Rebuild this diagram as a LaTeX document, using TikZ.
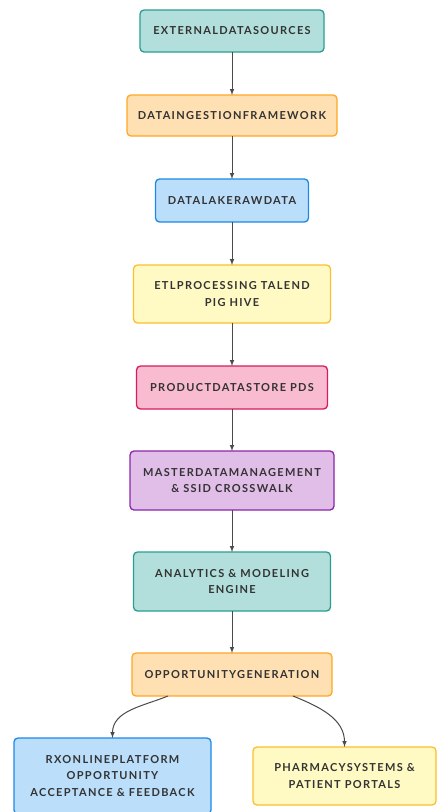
\documentclass[tikz,border=0pt]{standalone}
\usepackage{fontspec}
\newfontfamily\boxfont[LetterSpace=12]{Lato}
\usepackage{xcolor}
\usetikzlibrary{arrows,positioning}

\definecolor{tealfill}{HTML}{B2DFDB}
\definecolor{tealline}{HTML}{2A9D8F}
\definecolor{orangefill}{HTML}{FFE0B2}
\definecolor{orangeline}{HTML}{FFA726}
\definecolor{bluefill}{HTML}{BBDEFB}
\definecolor{blueline}{HTML}{1E88E5}
\definecolor{yellowfill}{HTML}{FFF9C4}
\definecolor{yellowline}{HTML}{FBC02D}
\definecolor{pinkfill}{HTML}{F8BBD0}
\definecolor{pinkline}{HTML}{D81B60}
\definecolor{purplefill}{HTML}{E1BEE7}
\definecolor{purpleline}{HTML}{8E24AA}
\definecolor{textgray}{HTML}{333333}
\definecolor{linegray}{HTML}{4A4A4A}

\begin{document}
\begin{tikzpicture}[
    x=1pt, y=1pt,
    node distance=43pt,
    box/.style={rectangle, draw, rounded corners=4pt, line width=1.3pt, align=center, inner sep=0pt, outer sep=0pt,
        font=\boxfont\bfseries\fontsize{11}{16.5}\selectfont, text=textgray},
    tealbox/.style={box, fill=tealfill, draw=tealline},
    orangebox/.style={box, fill=orangefill, draw=orangeline},
    bluebox/.style={box, fill=bluefill, draw=blueline},
    yellowbox/.style={box, fill=yellowfill, draw=yellowline},
    pinkbox/.style={box, fill=pinkfill, draw=pinkline},
    purplebox/.style={box, fill=purplefill, draw=purpleline},
    arrow/.style={->, >=latex, line width=1pt, draw=linegray}
]
    \useasboundingbox (0,0) rectangle (438,-812);

    \node[tealbox, minimum width=184pt, minimum height=42pt] (sources) at (232,-31) {EXTERNALDATASOURCES};
    \node[orangebox, minimum width=210pt, minimum height=41pt, below=of sources] (ingest) {DATAINGESTIONFRAMEWORK};
    \node[bluebox, minimum width=153pt, minimum height=43pt, below=of ingest] (lake) {DATALAKERAWDATA};
    \node[yellowbox, minimum width=197pt, minimum height=58pt, below=of lake] (etl) {ETLPROCESSING TALEND\\PIG HIVE};
    \node[pinkbox, minimum width=191pt, minimum height=43pt, below=of etl] (pds) {PRODUCTDATASTORE PDS};
    \node[purplebox, minimum width=204pt, minimum height=59pt, below=42pt of pds] (mdm) {MASTERDATAMANAGEMENT\\\& SSID CROSSWALK};
    \node[tealbox, minimum width=197pt, minimum height=59pt, below=42pt of mdm] (engine) {ANALYTICS \& MODELING\\ENGINE};
    \node[orangebox, minimum width=200pt, minimum height=43pt, below=42pt of engine] (opp) {OPPORTUNITYGENERATION};
    \node[bluebox, minimum width=197pt, minimum height=76pt, below=42pt of opp, xshift=-119.5pt] (rxportal) {RXONLINEPLATFORM\\OPPORTUNITY\\ACCEPTANCE \& FEEDBACK};
    \node[yellowbox, minimum width=183pt, minimum height=58pt, below=51pt of opp, xshift=112.5pt] (pharmacy) {PHARMACYSYSTEMS \&\\PATIENT PORTALS};

    \draw[arrow] (sources) -- (ingest);
    \draw[arrow] (ingest) -- (lake);
    \draw[arrow] (lake) -- (etl);
    \draw[arrow] (etl) -- (pds);
    \draw[arrow] (pds) -- (mdm);
    \draw[arrow] (mdm) -- (engine);
    \draw[arrow] (engine) -- (opp);
    \draw[arrow] ([xshift=36pt]opp.south west) to[out=202, in=90] (rxportal.north);
    \draw[arrow] ([xshift=-39pt]opp.south east) to[out=-22, in=90] (pharmacy.north);
\end{tikzpicture}
\end{document}
